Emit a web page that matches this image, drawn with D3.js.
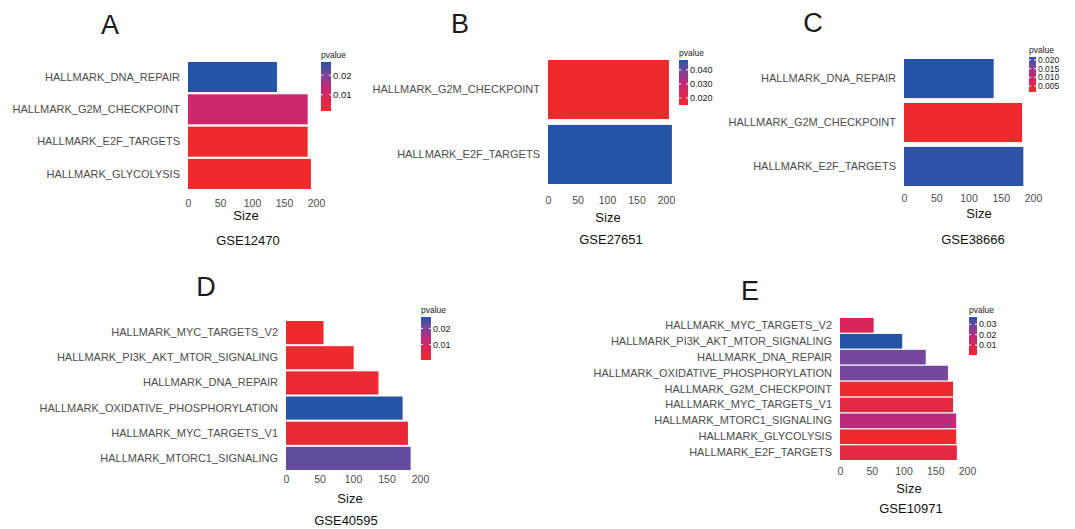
<!DOCTYPE html>
<html>
  <head>
    <meta charset="utf-8">
    <title>Hallmark enrichment by dataset</title>
    <script src="https://d3js.org/d3.v7.min.js"></script>
    <style>
      body { margin: 0; background: #fff; }
      text { font-family: "Liberation Sans", Arial, sans-serif; }
    </style>
  </head>
  <body>
    <div id="chart"></div>
    <script>
      // ---- data ----
      const letters = ["A", "B", "C", "D", "E"];
      const datasets = ["GSE12470", "GSE27651", "GSE38666", "GSE40595", "GSE10971"];
      const sizeTicks = [0, 50, 100, 150, 200];

      const termsA = ["HALLMARK_DNA_REPAIR", "HALLMARK_G2M_CHECKPOINT", "HALLMARK_E2F_TARGETS", "HALLMARK_GLYCOLYSIS"];
      const sizesA = [139, 187, 187, 192];
      const pvalsA = [0.0268, 0.0118, 0.0016, 0.0017];
      const pRangeA = [0.0016, 0.0268];
      const pTicksA = [0.01, 0.02];

      const termsB = ["HALLMARK_G2M_CHECKPOINT", "HALLMARK_E2F_TARGETS"];
      const sizesB = [205, 210];
      const pvalsB = [0.015, 0.047];
      const pRangeB = [0.015, 0.047];
      const pTicksB = [0.02, 0.03, 0.04];

      const termsC = ["HALLMARK_DNA_REPAIR", "HALLMARK_G2M_CHECKPOINT", "HALLMARK_E2F_TARGETS"];
      const sizesC = [139, 183, 185];
      const pvalsC = [0.0217, 0.0016, 0.0211];
      const pRangeC = [0.0016, 0.0217];
      const pTicksC = [0.005, 0.01, 0.015, 0.02];

      const termsD = ["HALLMARK_MYC_TARGETS_V2", "HALLMARK_PI3K_AKT_MTOR_SIGNALING", "HALLMARK_DNA_REPAIR",
                      "HALLMARK_OXIDATIVE_PHOSPHORYLATION", "HALLMARK_MYC_TARGETS_V1", "HALLMARK_MTORC1_SIGNALING"];
      const sizesD = [56, 101, 138, 174, 182, 186];
      const pvalsD = [0.0006, 0.0008, 0.0022, 0.027, 0.0025, 0.0222];
      const pRangeD = [0.0005, 0.027];
      const pTicksD = [0.01, 0.02];

      const termsE = ["HALLMARK_MYC_TARGETS_V2", "HALLMARK_PI3K_AKT_MTOR_SIGNALING", "HALLMARK_DNA_REPAIR",
                      "HALLMARK_OXIDATIVE_PHOSPHORYLATION", "HALLMARK_G2M_CHECKPOINT", "HALLMARK_MYC_TARGETS_V1",
                      "HALLMARK_MTORC1_SIGNALING", "HALLMARK_GLYCOLYSIS", "HALLMARK_E2F_TARGETS"];
      const sizesE = [53, 98, 135, 170, 178, 178, 183, 183, 184];
      const pvalsE = [0.0115, 0.037, 0.0285, 0.0285, 0.0015, 0.006, 0.019, 0.0005, 0.006];
      const pRangeE = [0.0005, 0.037];
      const pTicksE = [0.01, 0.02, 0.03];

      // ---- page layout (pixel positions of each panel) ----
      const panels = [
        { terms: termsA, sizes: sizesA, pvals: pvalsA, pRange: pRangeA, pTicks: pTicksA, fmt: ".2f",
          letterX: 110, letterY: 34, x0: 188, x200: 316, top: 62, bottom: 189, pad: 0.07,
          tickY: 207, sizeX: 246, sizeY: 220, titleX: 248, titleY: 245,
          leg: { x: 321, y: 62, w: 10, h: 49, fs: 9.5 } },
        { terms: termsB, sizes: sizesB, pvals: pvalsB, pRange: pRangeB, pTicks: pTicksB, fmt: ".3f",
          letterX: 460, letterY: 33, x0: 548, x200: 666, top: 60, bottom: 184, pad: 0.09,
          tickY: 204, sizeX: 608, sizeY: 222, titleX: 611, titleY: 244,
          leg: { x: 679, y: 60, w: 9, h: 45, fs: 9 } },
        { terms: termsC, sizes: sizesC, pvals: pvalsC, pRange: pRangeC, pTicks: pTicksC, fmt: ".3f",
          letterX: 813, letterY: 32, x0: 904, x200: 1033, top: 59, bottom: 186, pad: 0.11,
          tickY: 202, sizeX: 979, sizeY: 218, titleX: 973, titleY: 244,
          leg: { x: 1029, y: 57, w: 7, h: 35, fs: 8.5 } },
        { terms: termsD, sizes: sizesD, pvals: pvalsD, pRange: pRangeD, pTicks: pTicksD, fmt: ".2f",
          letterX: 206, letterY: 296, x0: 286, x200: 420, top: 321, bottom: 470, pad: 0.08,
          tickY: 483, sizeX: 350, sizeY: 503, titleX: 346, titleY: 525,
          leg: { x: 421, y: 317, w: 10, h: 43, fs: 9 } },
        { terms: termsE, sizes: sizesE, pvals: pvalsE, pRange: pRangeE, pTicks: pTicksE, fmt: ".2f",
          letterX: 750, letterY: 300, x0: 840, x200: 967, top: 318, bottom: 460, pad: 0.08,
          tickY: 475, sizeX: 909, sizeY: 493, titleX: 911, titleY: 513,
          leg: { x: 969, y: 317, w: 8, h: 38, fs: 9 } }
      ];

      const width = 1075, height = 529;
      const svg = d3.select("#chart").append("svg")
        .attr("width", width).attr("height", height);

      // red (low p) -> crimson -> magenta -> purple -> blue (high p)
      const ramp = d3.scaleLinear()
        .domain([0, 0.3, 0.5, 0.77, 1])
        .range(["#ee2a2a", "#d9265a", "#c0287a", "#72489c", "#2454a6"])
        .interpolate(d3.interpolateRgb);

      panels.forEach(function(p, i) {
        const g = svg.append("g");
        const color = d3.scaleLinear().domain(p.pRange).range([0, 1]).clamp(true);
        const fill = d => ramp(color(d));

        const x = d3.scaleLinear().domain([0, 200]).range([p.x0, p.x200]);
        const y = d3.scaleBand().domain(p.terms).range([p.top, p.bottom])
          .paddingInner(p.pad).paddingOuter(0);

        // panel letter
        g.append("text").attr("x", p.letterX).attr("y", p.letterY)
          .attr("text-anchor", "middle").attr("font-size", 27).attr("fill", "#1a1a1a")
          .text(letters[i]);

        // bars
        g.selectAll("rect.bar")
          .data(p.terms.map((t, k) => ({ term: t, size: p.sizes[k], p: p.pvals[k] })))
          .enter().append("rect")
          .attr("class", "bar")
          .attr("x", x(0))
          .attr("y", d => y(d.term))
          .attr("width", d => x(d.size) - x(0))
          .attr("height", y.bandwidth())
          .attr("fill", d => fill(d.p));

        // y axis: term labels
        const ya = g.append("g").attr("transform", `translate(${x(0)},0)`)
          .call(d3.axisLeft(y).tickSize(0).tickPadding(8));
        ya.select(".domain").remove();
        ya.selectAll("text").attr("font-size", 11).attr("fill", "#4d4d4d")
          .attr("font-family", "Liberation Sans, Arial, sans-serif");

        // x axis: size ticks
        const xa = g.append("g").attr("transform", `translate(0,${p.tickY})`)
          .call(d3.axisBottom(x).tickValues(sizeTicks).tickSize(0).tickPadding(0));
        xa.select(".domain").remove();
        xa.selectAll("text").attr("dy", null).attr("y", 0)
          .attr("font-size", 10.5).attr("fill", "#4d4d4d")
          .attr("font-family", "Liberation Sans, Arial, sans-serif");

        g.append("text").attr("x", p.sizeX).attr("y", p.sizeY)
          .attr("text-anchor", "middle").attr("font-size", 13).attr("fill", "#111")
          .text("Size");
        g.append("text").attr("x", p.titleX).attr("y", p.titleY)
          .attr("text-anchor", "middle").attr("font-size", 13).attr("fill", "#111")
          .text(datasets[i]);

        // colour bar legend
        const L = p.leg;
        const gradId = "grad" + i;
        const grad = svg.append("defs").append("linearGradient")
          .attr("id", gradId).attr("x1", 0).attr("x2", 0).attr("y1", 1).attr("y2", 0);
        d3.range(0, 1.0001, 0.05).forEach(t => {
          grad.append("stop").attr("offset", t).attr("stop-color", ramp(t));
        });
        g.append("rect").attr("x", L.x).attr("y", L.y).attr("width", L.w).attr("height", L.h)
          .attr("fill", `url(#${gradId})`);
        g.append("text").attr("x", L.x).attr("y", L.y - 4)
          .attr("font-size", 8.5).attr("fill", "#1a1a1a").text("pvalue");

        const ly = d3.scaleLinear().domain(p.pRange).range([L.y + L.h, L.y]);
        const lt = g.selectAll("g.lt").data(p.pTicks).enter().append("g")
          .attr("transform", d => `translate(0,${ly(d)})`);
        lt.append("line").attr("x1", L.x).attr("x2", L.x + 2)
          .attr("stroke", "#fff").attr("stroke-width", 1);
        lt.append("line").attr("x1", L.x + L.w - 2).attr("x2", L.x + L.w)
          .attr("stroke", "#fff").attr("stroke-width", 1);
        lt.append("text").attr("x", L.x + L.w + 2).attr("dy", "0.35em")
          .attr("font-size", L.fs).attr("fill", "#1a1a1a")
          .text(d => d3.format(p.fmt)(d));
      });
    </script>
  </body>
</html>
